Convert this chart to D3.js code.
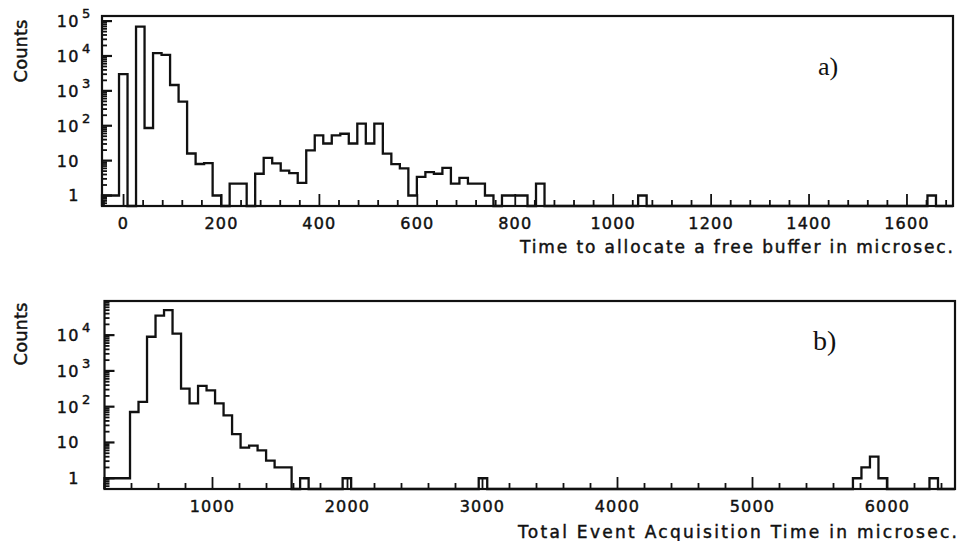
<!DOCTYPE html>
<html>
<head>
<meta charset="utf-8">
<script src="https://cdn.jsdelivr.net/npm/d3@7/dist/d3.min.js"></script>
<style>
  body { margin: 0; background: #fff; }
  svg { display: block; }
  .lbl { font-family: "DejaVu Sans", sans-serif; fill: #111; stroke: #111; stroke-width: 0.45px; }
</style>
</head>
<body>
<svg id="chart" width="958" height="541"></svg>
<script>
// a) time to allocate a free buffer, 100 bins over aRange
var aRange = [-44, 1694];
var aCounts = [
    1, 1, 3000, 0, 69000, 86, 12000, 10700, 1470, 490,
    16, 8, 8.5, 1, 0, 2.2, 2.2, 0, 4.2, 12,
    8.3, 5.2, 4.4, 2.3, 19.6, 53, 31, 53, 59, 31,
    115, 31, 115, 15.8, 7.9, 6, 1, 3.4, 4.7, 4.2,
    6.2, 2.2, 3.2, 2.2, 2.2, 1, 0, 1, 1, 1,
    0, 2.2, 0, 0, 0, 0, 0, 0, 0, 0,
    0, 0, 0, 1, 0, 0, 0, 0, 0, 0,
    0, 0, 0, 0, 0, 0, 0, 0, 0, 0,
    0, 0, 0, 0, 0, 0, 0, 0, 0, 0,
    0, 0, 0, 0, 0, 0, 0, 1, 0, 0
];
var aXTicks = [0, 200, 400, 600, 800, 1000, 1200, 1400, 1600];
var aYDomain = [0.5, 1.4e5];
var aYDecades = [1, 10, 100, 1000, 10000, 100000];

// b) total event acquisition time, 100 bins over bRange
var bRange = [200, 6500];
var bCounts = [
    1, 1, 1, 71, 136, 9000, 35000, 50000, 11000, 320,
    123, 380, 285, 124, 57, 17, 7.2, 8.2, 6, 3.1,
    2, 2, 0, 1, 0, 0, 0, 0, 1, 0,
    0, 0, 0, 0, 0, 0, 0, 0, 0, 0,
    0, 0, 0, 0, 1, 0, 0, 0, 0, 0,
    0, 0, 0, 0, 0, 0, 0, 0, 0, 0,
    0, 0, 0, 0, 0, 0, 0, 0, 0, 0,
    0, 0, 0, 0, 0, 0, 0, 0, 0, 0,
    0, 0, 0, 0, 0, 0, 0, 0, 1, 2,
    4, 1, 0, 0, 0, 0, 0, 1, 0, 0
];
var bXTicks = [1000, 2000, 3000, 4000, 5000, 6000];
var bYDomain = [0.5, 9e4];
var bYDecades = [1, 10, 100, 1000, 10000];

var svg = d3.select("#chart");

drawPanel({
    left: 102, right: 953, top: 16, bottom: 206,
    range: aRange, counts: aCounts, xTicks: aXTicks, minorStep: 40,
    yDomain: aYDomain, decades: aYDecades,
    tag: "a)", tagX: 818, tagY: 75, tagSize: 26,
    title: "Time to allocate a free buffer in microsec.",
    titleX: 520, titleY: 253, titleLen: 433,
    countsY: 51
});

drawPanel({
    left: 104.5, right: 955, top: 301, bottom: 489,
    range: bRange, counts: bCounts, xTicks: bXTicks, minorStep: 200,
    yDomain: bYDomain, decades: bYDecades,
    tag: "b)", tagX: 813, tagY: 350, tagSize: 28,
    title: "Total Event Acquisition Time in microsec.",
    titleX: 518, titleY: 538, titleLen: 439,
    countsY: 334
});

function drawPanel(o) {
    var x = d3.scaleLinear().domain(o.range).range([o.left, o.right]);
    var y = d3.scaleLog().domain(o.yDomain).range([o.bottom, o.top]).clamp(true);
    var ymin = o.yDomain[0];
    var n = o.counts.length;
    var w = (o.range[1] - o.range[0]) / n;

    var g = svg.append("g");

    // histogram outline
    var pts = [[o.range[0], 0]];
    o.counts.forEach(function (c, k) { pts.push([o.range[0] + k * w, c]); });
    pts.push([o.range[1], 0]);

    var line = d3.line()
        .x(function (d) { return x(d[0]); })
        .y(function (d) { return y(Math.max(d[1], ymin)); })
        .curve(d3.curveStepAfter);

    g.append("path")
        .attr("d", line(pts))
        .attr("fill", "none")
        .attr("stroke", "#111")
        .attr("stroke-width", 2.3)
        .attr("stroke-linejoin", "miter");

    // frame
    g.append("rect")
        .attr("x", o.left).attr("y", o.top)
        .attr("width", o.right - o.left).attr("height", o.bottom - o.top)
        .attr("fill", "none").attr("stroke", "#111").attr("stroke-width", 2.2);

    // x ticks, pointing up into the frame
    var minor = d3.range(Math.ceil(o.range[0] / o.minorStep) * o.minorStep, o.range[1], o.minorStep);
    g.selectAll(".xt").data(minor).enter().append("line")
        .attr("x1", function (d) { return x(d); }).attr("x2", function (d) { return x(d); })
        .attr("y1", o.bottom)
        .attr("y2", function (d) { return o.xTicks.indexOf(d) >= 0 ? o.bottom - 12 : o.bottom - 6; })
        .attr("stroke", "#111").attr("stroke-width", 1.8);

    g.selectAll(".xl").data(o.xTicks).enter().append("text")
        .attr("class", "lbl")
        .attr("x", function (d) { return x(d); })
        .attr("y", o.bottom + 23)
        .attr("text-anchor", "middle")
        .style("font-size", "16px")
        .style("letter-spacing", "1.2px")
        .text(function (d) { return d; });

    // y ticks, log decades and 2..9 minors
    var yMinor = [];
    [0.1, 1, 10, 100, 1000, 10000, 100000].forEach(function (dec) {
        for (var m = 2; m <= 9; m++) {
            var v = m * dec;
            if (v >= o.yDomain[0] && v <= o.yDomain[1]) yMinor.push(v);
        }
    });
    g.selectAll(".ym").data(yMinor).enter().append("line")
        .attr("x1", o.left).attr("x2", o.left + 5)
        .attr("y1", function (d) { return y(d); }).attr("y2", function (d) { return y(d); })
        .attr("stroke", "#111").attr("stroke-width", 1.8);

    g.selectAll(".yM").data(o.decades).enter().append("line")
        .attr("x1", o.left).attr("x2", o.left + 10)
        .attr("y1", function (d) { return y(d); }).attr("y2", function (d) { return y(d); })
        .attr("stroke", "#111").attr("stroke-width", 2.2);

    var yl = g.selectAll(".yl").data(o.decades).enter().append("g");
    yl.append("text")
        .attr("class", "lbl")
        .attr("x", 80)
        .attr("y", function (d) { return y(d) + 6; })
        .attr("text-anchor", "end")
        .style("font-size", "16px")
        .style("letter-spacing", "1.5px")
        .text(function (d) { return d >= 100 ? "10" : String(d); });
    yl.filter(function (d) { return d >= 100; }).append("text")
        .attr("class", "lbl")
        .attr("x", 82)
        .attr("y", function (d) { return y(d) - 3; })
        .style("font-size", "13px")
        .text(function (d) { return Math.round(Math.log10(d)); });

    // axis titles
    svg.append("text")
        .attr("class", "lbl")
        .attr("transform", "translate(27," + o.countsY + ") rotate(-90)")
        .attr("text-anchor", "middle")
        .style("font-size", "18px")
        .text("Counts");

    svg.append("text")
        .attr("class", "lbl")
        .attr("x", o.titleX).attr("y", o.titleY)
        .attr("textLength", o.titleLen)
        .attr("lengthAdjust", "spacing")
        .style("font-size", "17px")
        .text(o.title);

    svg.append("text")
        .attr("x", o.tagX).attr("y", o.tagY)
        .style("font-family", "'Liberation Serif', serif")
        .style("font-size", o.tagSize + "px")
        .attr("fill", "#111")
        .text(o.tag);
}
</script>
</body>
</html>
